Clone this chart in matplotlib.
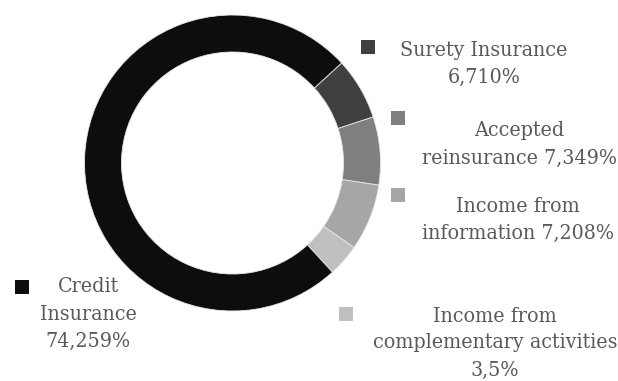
import matplotlib
matplotlib.use("Agg")
import matplotlib.pyplot as plt

# Revenue breakdown by business line (%)
categories = [
    "Surety Insurance",
    "Accepted reinsurance",
    "Income from information",
    "Income from complementary activities",
    "Credit Insurance",
]
shares = [6.710, 7.349, 7.208, 3.5, 74.259]
decimals = [3, 3, 3, 1, 3]
colors = ["#404040", "#7f7f7f", "#a6a6a6", "#bfbfbf", "#0d0d0d"]

# Legend text layout: how each category name is broken into lines
name_lines = [
    ["Surety Insurance"],
    ["Accepted", "reinsurance"],
    ["Income from", "information"],
    ["Income from", "complementary activities"],
    ["Credit", "Insurance"],
]
# whether the value sits on the last name line or on its own line
value_inline = [False, True, True, False, False]

W, H = 618, 381
fig = plt.figure(figsize=(W / 100, H / 100), dpi=100)

# Donut
cx, cy, r = 232.5, 163, 148
ax = fig.add_axes([(cx - r) / W, 1 - (cy + r) / H, 2 * r / W, 2 * r / H])
ax.pie(
    shares,
    colors=colors,
    startangle=42.5,
    counterclock=False,
    radius=1.0,
    wedgeprops=dict(width=0.25, edgecolor="#e8e8e8", linewidth=0.6),
)
ax.set_xlim(-1, 1)
ax.set_ylim(-1, 1)
ax.set_aspect("equal")
ax.axis("off")

# Overlay in pixel coordinates for the legend entries
ov = fig.add_axes([0, 0, 1, 1])
ov.set_xlim(0, W)
ov.set_ylim(H, 0)
ov.axis("off")

# (marker x, marker y, text center x, first line y)
entry_pos = [
    (368, 46.5, 484, 50),
    (397.5, 117.5, 519, 131),
    (398, 195, 518, 206),
    (346, 314, 495, 316),
    (21.5, 286.5, 88, 287),
]

font = dict(family="DejaVu Serif", stretch="condensed", size=15.3, color="#5a5a5a")
line_h = 27

for name, lines, val, dec, inline, col, (mx, my, tx, ty) in zip(
    categories, name_lines, shares, decimals, value_inline, colors, entry_pos
):
    ov.scatter([mx], [my], marker="s", s=88, color=col, linewidths=0)
    vtxt = f"{val:.{dec}f}".replace(".", ",") + "%"
    rows = list(lines)
    if inline:
        rows[-1] = rows[-1] + " " + vtxt
    else:
        rows.append(vtxt)
    for i, row in enumerate(rows):
        ov.text(tx, ty + i * line_h, row, ha="center", va="center", **font)

fig.savefig("out.png", dpi=100, facecolor="white")
